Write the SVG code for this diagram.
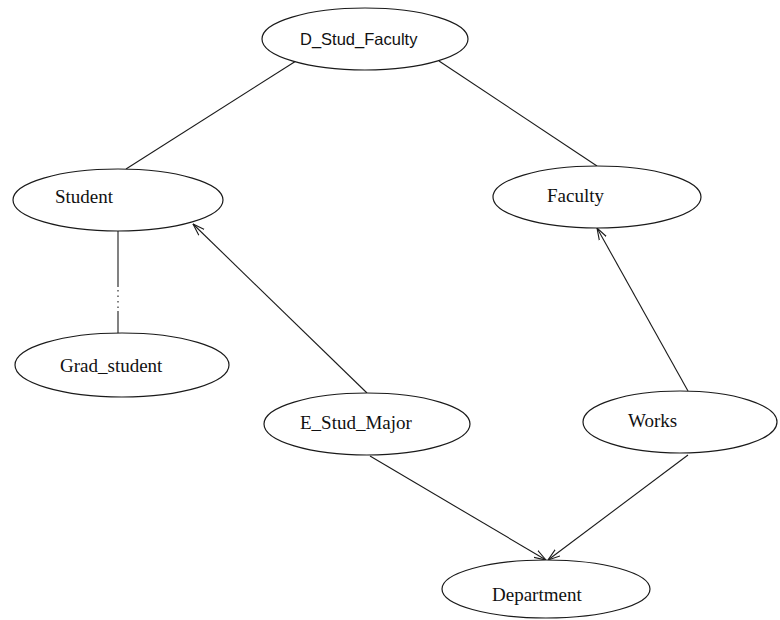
<svg xmlns="http://www.w3.org/2000/svg" width="780" height="620" viewBox="0 0 780 620">
  <style>
    .node ellipse { fill: #ffffff; stroke: #1a1a1a; stroke-width: 1.2; }
    .node text { font-family: "Liberation Serif", "Times New Roman", serif; font-size: 19px; fill: #111111; }
    .node text.sans { font-family: "Liberation Sans", Arial, sans-serif; font-size: 16.5px; }
    .edges line, .edges path { stroke: #1a1a1a; stroke-width: 1.1; fill: none; }
  </style>
  <defs>
    <marker id="open" viewBox="0 0 12 10" refX="12" refY="5" markerWidth="12" markerHeight="10" markerUnits="userSpaceOnUse" orient="auto">
      <path d="M0,1 L12,5 L0,9" fill="none" stroke="#1a1a1a" stroke-width="1.1"/>
    </marker>
  </defs>
  <rect width="780" height="620" fill="#ffffff"/>

  <g class="edges">
    <line x1="296" y1="61" x2="126" y2="169"/>
    <line x1="439" y1="61" x2="597" y2="166"/>
    <line x1="118" y1="231" x2="118" y2="287"/>
    <line x1="118" y1="290" x2="118" y2="309" stroke-dasharray="1.5 4"/>
    <line x1="118" y1="311" x2="118" y2="334"/>
    <line x1="367" y1="393" x2="193" y2="224" marker-end="url(#open)"/>
    <line x1="688" y1="391" x2="597" y2="228" marker-end="url(#open)"/>
    <line x1="370" y1="456" x2="546" y2="560" marker-end="url(#open)"/>
    <line x1="688" y1="455" x2="548" y2="560" marker-end="url(#open)"/>
  </g>

  <g id="D_Stud_Faculty" class="node">
    <ellipse cx="365" cy="39" rx="103" ry="31"/>
    <text class="sans" x="300" y="45">D_Stud_Faculty</text>
  </g>
  <g id="Student" class="node">
    <ellipse cx="118" cy="200" rx="105" ry="31"/>
    <text x="55" y="203">Student</text>
  </g>
  <g id="Faculty" class="node">
    <ellipse cx="597" cy="197" rx="104" ry="31"/>
    <text x="547" y="202">Faculty</text>
  </g>
  <g id="Grad_student" class="node">
    <ellipse cx="122" cy="365" rx="107" ry="32"/>
    <text x="60" y="372">Grad_student</text>
  </g>
  <g id="E_Stud_Major" class="node">
    <ellipse cx="367" cy="424" rx="103" ry="31"/>
    <text x="300" y="429">E_Stud_Major</text>
  </g>
  <g id="Works" class="node">
    <ellipse cx="680" cy="422" rx="97" ry="31"/>
    <text x="628" y="427">Works</text>
  </g>
  <g id="Department" class="node">
    <ellipse cx="546" cy="589" rx="104" ry="29"/>
    <text x="492" y="601">Department</text>
  </g>
</svg>
